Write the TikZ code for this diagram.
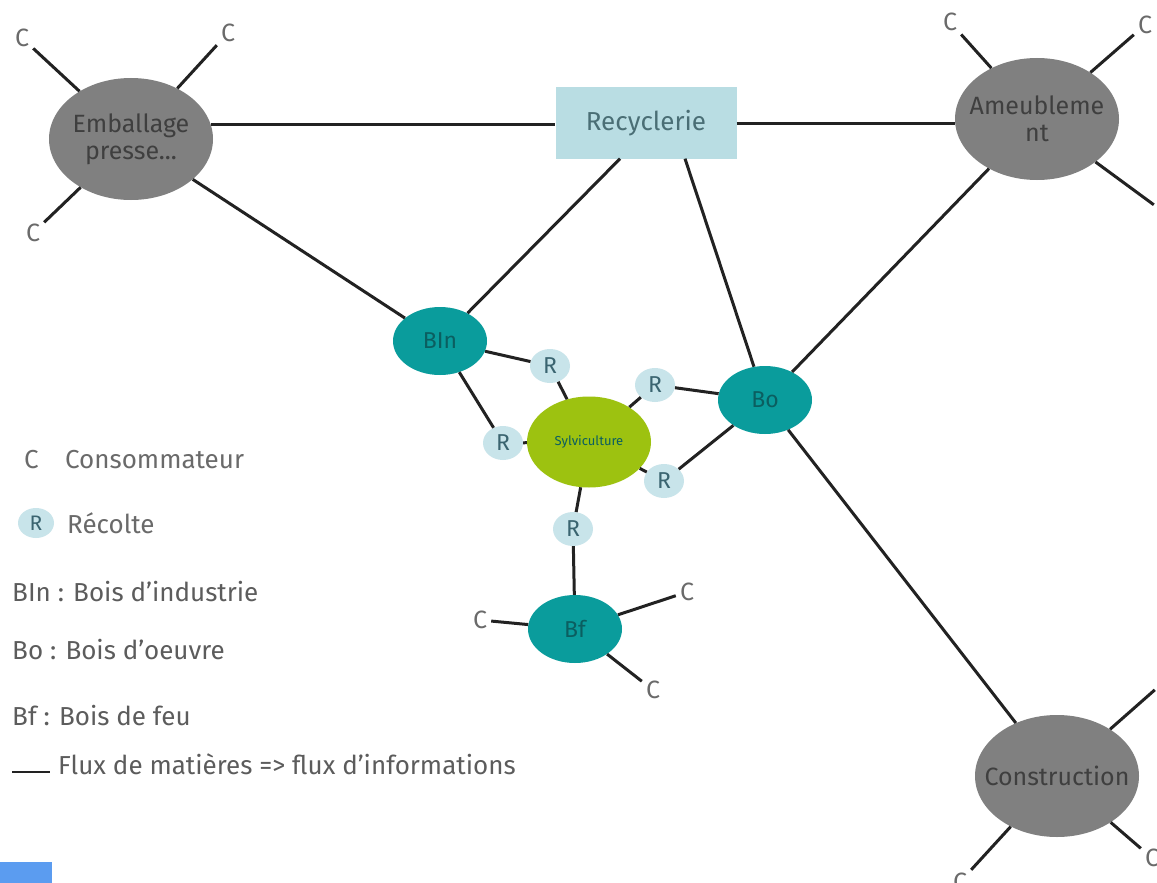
\documentclass[tikz,border=0pt]{standalone}
\usepackage{fontspec}
\setmainfont{Fira Sans}
\usetikzlibrary{shapes.geometric}
\definecolor{grayfill}{HTML}{808080}
\definecolor{graytext}{HTML}{3F3F3F}
\definecolor{recfill}{HTML}{B9DDE3}
\definecolor{rectext}{HTML}{4A6E75}
\definecolor{teal2}{HTML}{0A9C9C}
\definecolor{tealtext}{HTML}{0B5E60}
\definecolor{greenfill}{HTML}{9DC210}
\definecolor{rfill}{HTML}{C8E4EA}
\definecolor{rtext}{HTML}{3A6470}
\definecolor{legtext}{HTML}{6A6A6A}
\definecolor{edge}{HTML}{222222}
\definecolor{bluebar}{HTML}{5B9CF0}
\begin{document}
\begin{tikzpicture}[x=1pt,y=-1pt,
  bigell/.style={ellipse,fill=grayfill,draw=none,minimum width=164pt,minimum height=122pt,inner xsep=-40pt,inner ysep=-20pt,text=graytext,align=center,font=\fontsize{25}{30}\selectfont},
  tealell/.style={ellipse,fill=teal2,draw=none,minimum width=94pt,minimum height=68pt,inner sep=0pt,text=tealtext,font=\fontsize{23}{26}\selectfont},
  rnode/.style={ellipse,fill=rfill,draw=none,minimum width=40pt,minimum height=34pt,inner sep=0pt,text=rtext,font=\fontsize{23}{24}\selectfont},
  cnode/.style={inner sep=4pt,text=legtext,font=\fontsize{25}{26}\selectfont},
  link/.style={draw=edge,line width=3pt},
  legend/.style={anchor=west,inner sep=0pt,text=legtext,font=\fontsize{26}{30}\selectfont}]
\useasboundingbox (0,0) rectangle (1157,883);
\fill[white] (0,0) rectangle (1157,883);

% main nodes
\node[bigell] (emb) at (131,139) {Emballage\\[-3pt]presse...};
\node[bigell] (ameu) at (1037,119) {Ameubleme\\[-3pt]nt};
\node[bigell] (cons) at (1057,776) {Construction};
\node[rectangle,fill=recfill,minimum width=181pt,minimum height=71pt,inner sep=0pt,text=rectext,font=\fontsize{26}{30}\selectfont] (rec) at (646,123) {Recyclerie};
\node[tealell] (bln) at (440,341) {BIn};
\node[tealell] (bo) at (765,400) {Bo};
\node[tealell] (bf) at (575,629) {Bf};
\node[ellipse,fill=greenfill,minimum width=124pt,minimum height=91pt,inner sep=0pt,text=tealtext,font=\fontsize{13}{14}\selectfont] (syl) at (589,442) {Sylviculture};

% R nodes
\node[rnode] (r1) at (550,366) {R};
\node[rnode] (r2) at (503,443) {R};
\node[rnode] (r3) at (655,385) {R};
\node[rnode] (r4) at (664,481) {R};
\node[rnode] (r5) at (573,529) {R};

% consumers
\node[cnode] (ce1) at (22,38) {C};
\node[cnode] (ce2) at (228,33) {C};
\node[cnode] (ce3) at (33,233) {C};
\node[cnode] (ca1) at (950,22) {C};
\node[cnode] (ca2) at (1145,25) {C};
\node[cnode] (ca3) at (1165,213) {C};
\node[cnode] (cc1) at (1166,680) {C};
\node[cnode] (cc2) at (960,882) {C};
\node[cnode] (cc3) at (1152,858) {C};
\node[cnode] (cb1) at (480,620) {C};
\node[cnode] (cb2) at (687,592) {C};
\node[cnode] (cb3) at (653,690) {C};

% links
\draw[link] (emb.10) -- (emb.10 -| rec.west);
\draw[link] (rec.east) -- (rec.east -| ameu.west);
\draw[link] (emb) -- (bln);
\draw[link] ([xshift=-26pt]rec.south) -- (bln);
\draw[link] ([xshift=39pt]rec.south) -- (bo);
\draw[link] (ameu) -- (bo);
\draw[link] (bo) -- (cons);
\draw[link] (bln) -- (r1);
\draw[link] (r1) -- (syl);
\draw[link] (bln) -- (r2);
\draw[link] (r2) -- (syl);
\draw[link] (bo) -- (r3);
\draw[link] (r3) -- (syl);
\draw[link] (bo) -- (r4);
\draw[link] (r4) -- (syl);
\draw[link] (syl) -- (r5);
\draw[link] (r5) -- (bf);
\draw[link] (emb) -- (ce1);
\draw[link] (emb) -- (ce2);
\draw[link] (emb) -- (ce3);
\draw[link] (ameu) -- (ca1);
\draw[link] (ameu) -- (ca2);
\draw[link] (ameu) -- (ca3);
\draw[link] (cons) -- (cc1);
\draw[link] (cons) -- (cc2);
\draw[link] (cons) -- (cc3);
\draw[link] (bf) -- (cb1);
\draw[link] (bf) -- (cb2);
\draw[link] (bf) -- (cb3);

% legend
\node[legend] (lc) at (24,460) {C};
\node[legend] (lct) at (65,460) {Consommateur};
\node[rnode,minimum width=36pt,minimum height=30pt,font=\fontsize{21}{22}\selectfont] (lr) at (36,523) {R};
\node[legend] (lrt) at (67,523) {Récolte};
\node[legend,text=graytext!85] (l1) at (12,592) {BIn : Bois d'industrie};
\node[legend,text=graytext!85] (l2) at (12,650) {Bo : Bois d'oeuvre};
\node[legend,text=graytext!85] (l3) at (12,716) {Bf : Bois de feu};
\coordinate (fl1) at (12,772);
\coordinate (fl2) at (50,772);
\draw[draw=edge,line width=2.4pt] (fl1) -- (fl2);
\node[legend,text=graytext!85] (l4) at (58,764) {Flux de matières => flux d'informations};

\fill[bluebar] (0,862) rectangle (52,883);
\end{tikzpicture}
\end{document}
